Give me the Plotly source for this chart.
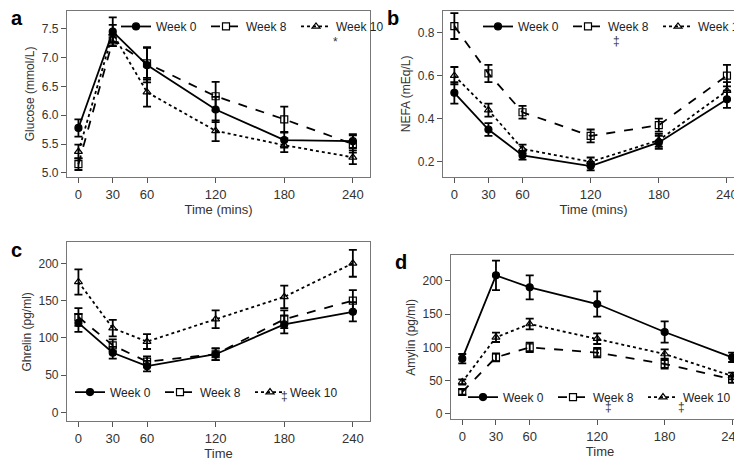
import plotly.graph_objects as go

time = [0, 30, 60, 120, 180, 240]
series_names = ["Week 0", "Week 8", "Week 10"]

glucose = {"Week 0": [5.78, 7.45, 6.87, 6.10, 5.57, 5.55],
           "Week 8": [5.15, 7.30, 6.90, 6.33, 5.93, 5.50],
           "Week 10": [5.37, 7.42, 6.40, 5.73, 5.48, 5.27]}
glucose_err = {"Week 0": [0.15, 0.25, 0.30, 0.22, 0.13, 0.12],
               "Week 8": [0.10, 0.10, 0.28, 0.25, 0.22, 0.15],
               "Week 10": [0.12, 0.15, 0.25, 0.18, 0.12, 0.12]}
nefa = {"Week 0": [0.52, 0.35, 0.23, 0.18, 0.29, 0.49],
        "Week 8": [0.83, 0.61, 0.43, 0.32, 0.37, 0.60],
        "Week 10": [0.60, 0.44, 0.26, 0.20, 0.30, 0.53]}
nefa_err = {"Week 0": [0.05, 0.03, 0.02, 0.02, 0.03, 0.04],
            "Week 8": [0.06, 0.04, 0.03, 0.03, 0.03, 0.05],
            "Week 10": [0.04, 0.03, 0.02, 0.02, 0.03, 0.04]}
ghrelin = {"Week 0": [120, 80, 62, 78, 118, 135],
           "Week 8": [128, 90, 68, 78, 125, 150],
           "Week 10": [175, 113, 95, 125, 155, 200]}
ghrelin_err = {"Week 0": [12, 8, 7, 8, 12, 13],
               "Week 8": [12, 8, 7, 8, 12, 14],
               "Week 10": [17, 11, 10, 12, 15, 18]}
amylin = {"Week 0": [83, 208, 190, 165, 123, 85],
          "Week 8": [33, 85, 100, 92, 75, 52],
          "Week 10": [48, 115, 135, 113, 90, 57]}
amylin_err = {"Week 0": [7, 22, 18, 19, 16, 7],
              "Week 8": [4, 6, 7, 7, 7, 5],
              "Week 10": [4, 7, 8, 8, 7, 5]}

styles = {"Week 0": dict(dash="solid", symbol="circle"),
          "Week 8": dict(dash="dash", symbol="square-open"),
          "Week 10": dict(dash="dot", symbol="triangle-up-open")}

panels = [
    dict(data=glucose, err=glucose_err, ax="", dom_x=[59/742, 362/742], dom_y=[1-170/462, 1-3/462],
         yr=[4.93, 7.81], ticks=[5.0, 5.5, 6.0, 6.5, 7.0, 7.5], tfmt=".1f",
         ytitle="Glucose (mmol/L)", xtitle="Time (mins)", letter="a",
         leg=dict(x=108/742, y=1-4/462), marks=[(225, 7.28, "*")]),
    dict(data=nefa, err=nefa_err, ax="2", dom_x=[435/742, 736/742], dom_y=[1-170/462, 1-3/462],
         yr=[0.13, 0.9], ticks=[0.2, 0.4, 0.6, 0.8], tfmt=".1f",
         ytitle="NEFA (mEq/L)", xtitle="Time (mins)", letter="b",
         leg=dict(x=470/742, y=1-4/462), marks=[(143, 0.76, "‡")]),
    dict(data=ghrelin, err=ghrelin_err, ax="3", dom_x=[59/742, 362/742], dom_y=[1-416/462, 1-236/462],
         yr=[-12, 228], ticks=[0, 50, 100, 150, 200], tfmt="d",
         ytitle="Ghrelin (pg/ml)", xtitle="Time", letter="c",
         leg=dict(x=62/742, y=1-372/462), marks=[(180, 22, "‡")]),
    dict(data=amylin, err=amylin_err, ax="4", dom_x=[443/742, 741/742], dom_y=[1-414/462, 1-249/462],
         yr=[-8, 238], ticks=[0, 50, 100, 150, 200], tfmt="d",
         ytitle="Amylin (pg/ml)", xtitle="Time", letter="d",
         leg=dict(x=455/742, y=1-377/462), marks=[(130, 10, "‡"), (195, 10, "‡")]),
]

fig = go.Figure()
layout = dict(width=742, height=462, margin=dict(l=0, r=0, t=0, b=0),
              plot_bgcolor="white", paper_bgcolor="white",
              font=dict(family="Liberation Sans, Arial", size=13, color="#333"),
              annotations=[])
for i, p in enumerate(panels):
    xa = "x" + p["ax"]
    ya = "y" + p["ax"]
    legname = "legend" if i == 0 else f"legend{i+1}"
    for name in series_names:
        s = styles[name]
        fig.add_trace(go.Scatter(
            x=time, y=p["data"][name], name=name, xaxis=xa, yaxis=ya, legend=legname,
            mode="lines+markers",
            line=dict(color="black", width=1.8, dash=s["dash"]),
            marker=dict(symbol=s["symbol"], size=7, color="black", line=dict(color="black", width=1.2)),
            error_y=dict(type="data", array=p["err"][name], color="black", thickness=1.8, width=4),
        ))
    key = p["ax"]
    layout["xaxis" + key] = dict(domain=p["dom_x"], range=[-10, 255], anchor=ya,
                                 tickvals=time, ticks="outside", ticklen=5, tickcolor="#555",
                                 showgrid=False, zeroline=False, showline=True, mirror=True,
                                 linecolor="#777", linewidth=1.2,
                                 title=dict(text=p["xtitle"], standoff=2, font=dict(size=13)),
                                 tickfont=dict(size=13))
    layout["yaxis" + key] = dict(domain=p["dom_y"], range=p["yr"], anchor=xa,
                                 tickvals=p["ticks"], tickformat=p["tfmt"], ticks="outside",
                                 ticklen=5, tickcolor="#555",
                                 showgrid=False, zeroline=False, showline=True, mirror=True,
                                 linecolor="#777", linewidth=1.2,
                                 title=dict(text=p["ytitle"], standoff=4, font=dict(size=12)),
                                 tickfont=dict(size=12))
    layout[legname] = dict(x=p["leg"]["x"], y=p["leg"]["y"], xanchor="left", yanchor="top",
                           orientation="h", bgcolor="rgba(0,0,0,0)", font=dict(size=12, color="#222"),
                           entrywidth=45, entrywidthmode="pixels", itemwidth=30,
                           tracegroupgap=0)
    for (mx, my, mt) in p["marks"]:
        layout["annotations"].append(dict(x=mx, y=my, xref=xa, yref=ya, text=mt, showarrow=False,
                                          font=dict(size=12, color="#333")))
    layout["annotations"].append(dict(x=p["dom_x"][0] - 58/742, y=p["dom_y"][1] + 6/462,
                                      xref="paper", yref="paper", text="<b>" + p["letter"] + "</b>",
                                      showarrow=False, xanchor="left", yanchor="top",
                                      font=dict(size=20, color="black")))
fig.update_layout(**layout)
fig.write_html("out.html")
